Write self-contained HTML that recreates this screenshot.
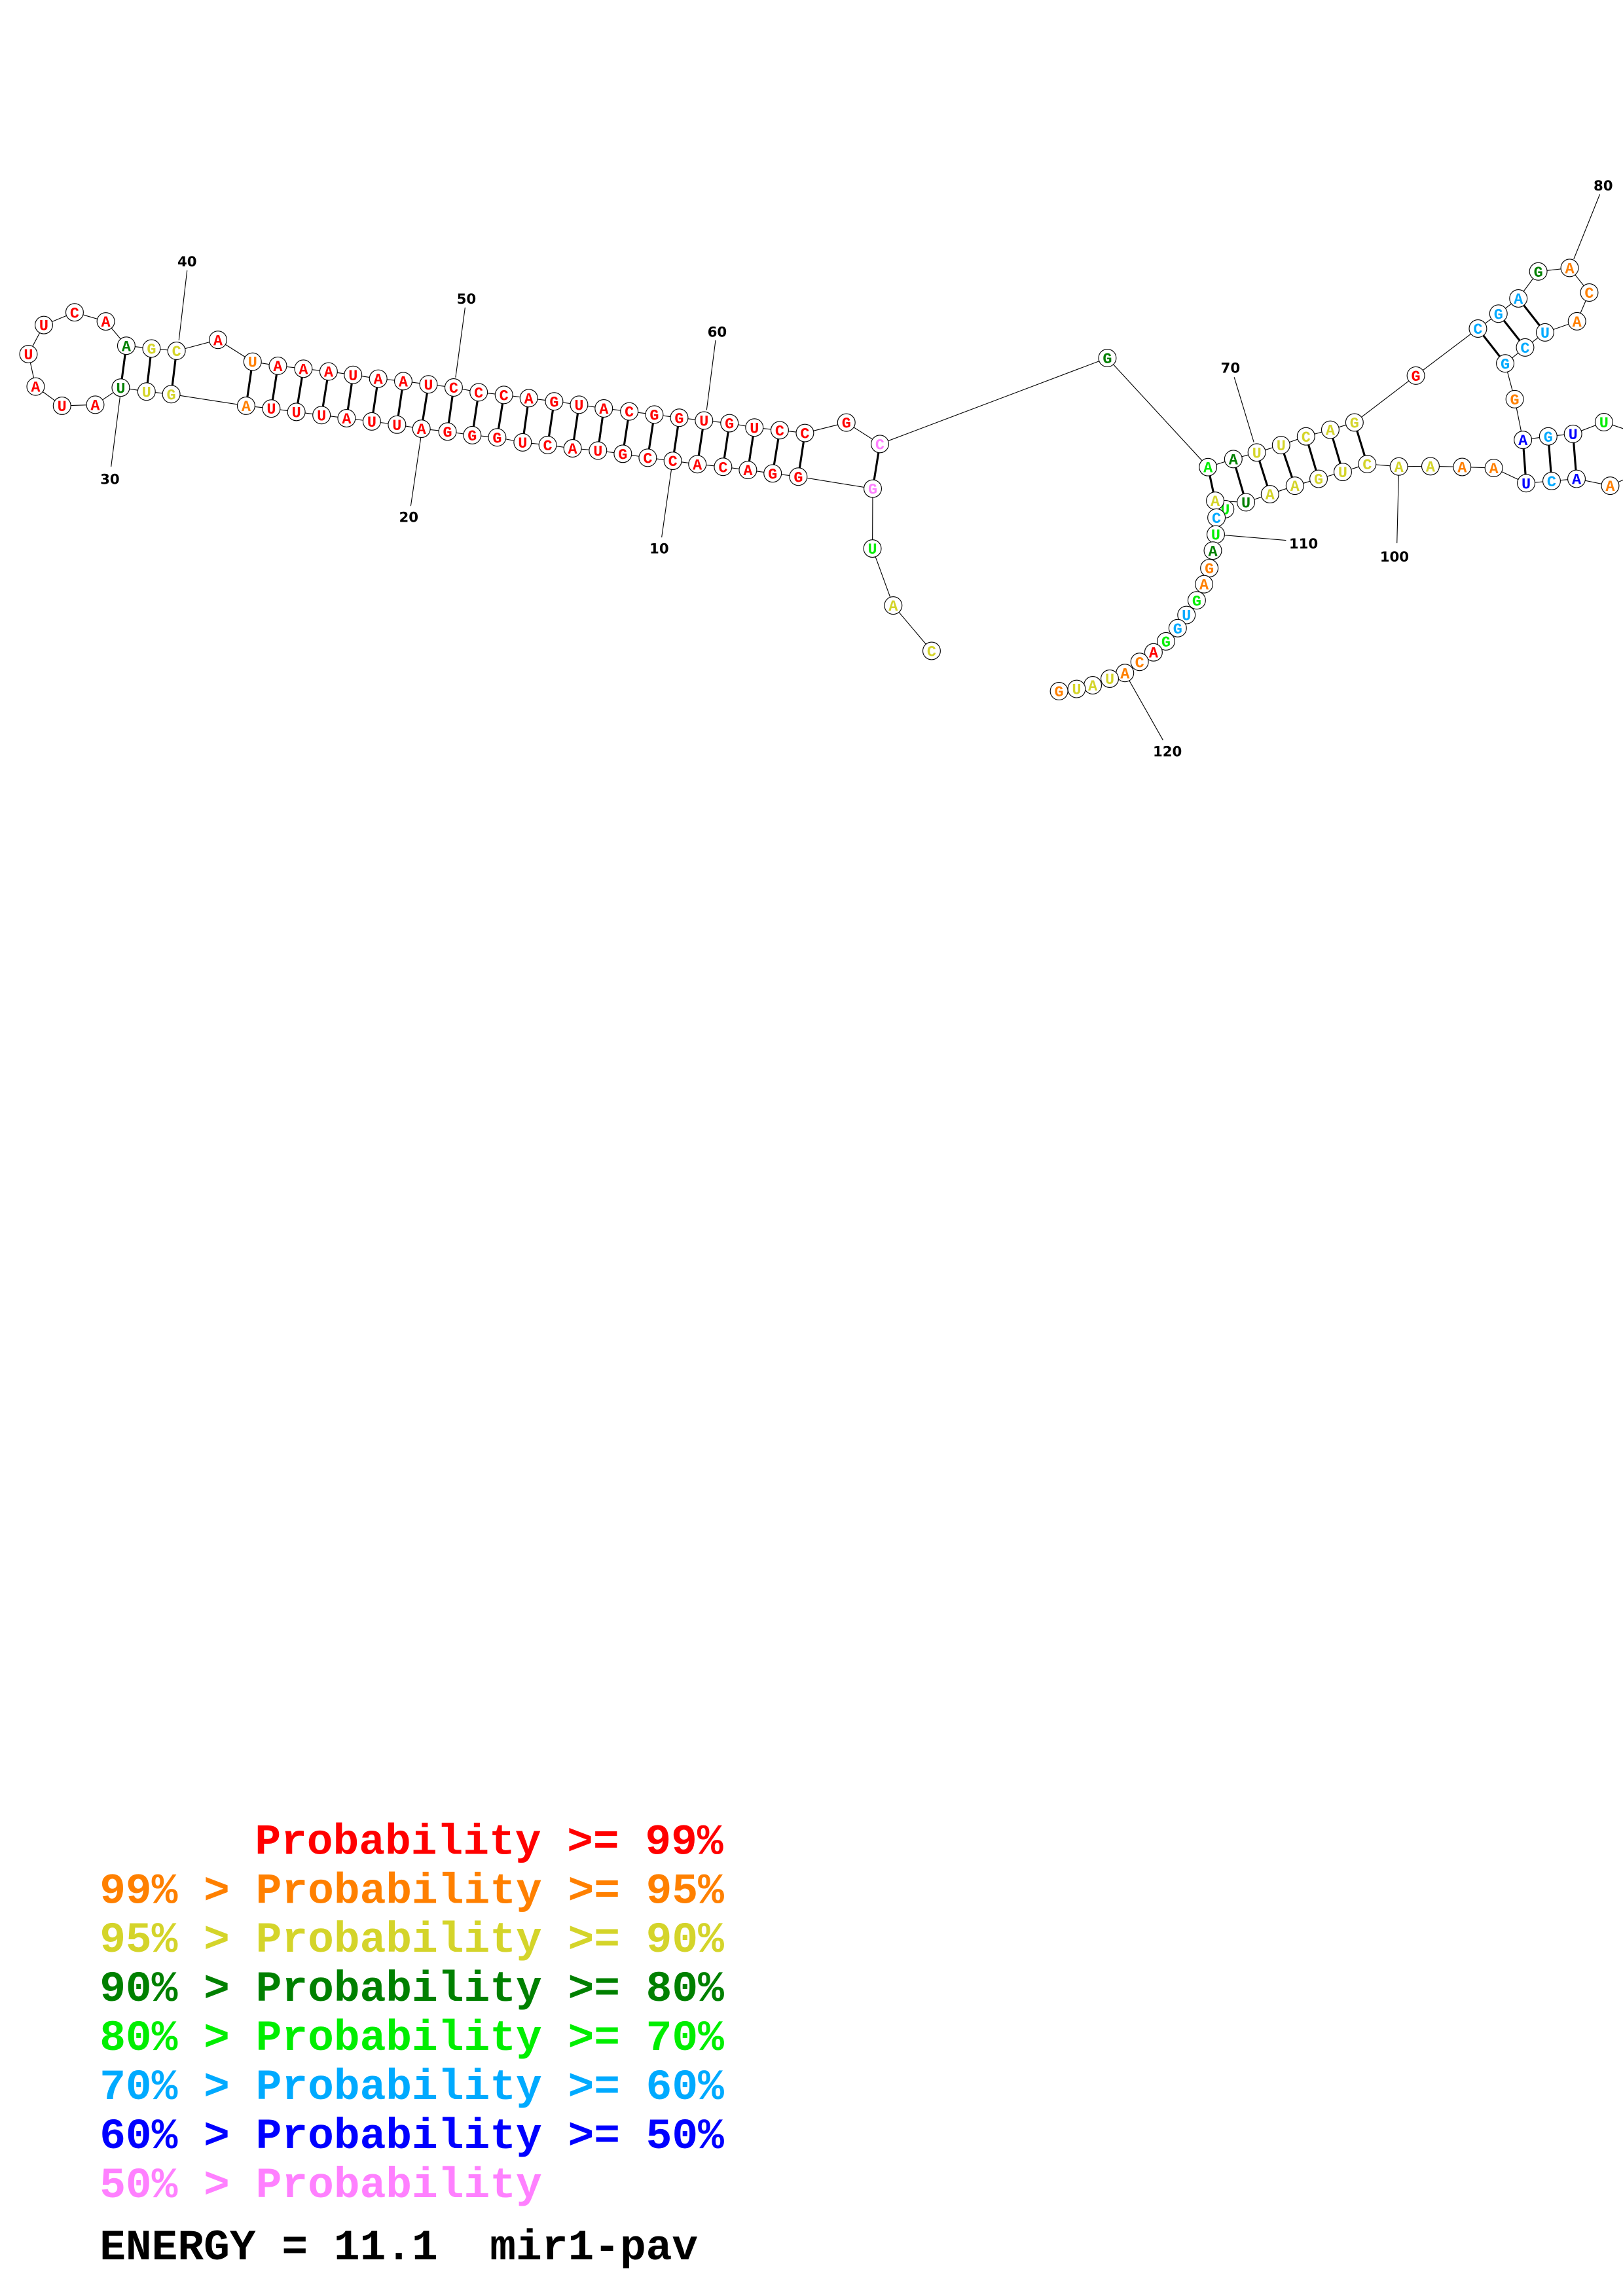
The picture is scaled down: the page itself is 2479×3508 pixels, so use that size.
<!DOCTYPE html>
<html><head><meta charset="utf-8"><style>
html,body{margin:0;padding:0;background:#fff;}
svg{display:block;}
.n circle{fill:#fff;stroke:#000;stroke-width:0.5;}
.n text{font-family:"Liberation Mono",monospace;font-weight:bold;font-size:10.5px;text-anchor:middle;}
.r{fill:#ff0000}.o{fill:#ff8000}.y{fill:#d4d42a}.g{fill:#008000}.l{fill:#00ee00}.b{fill:#00aaff}.d{fill:#0000ff}.p{fill:#ff80ff}
.lab{font-family:"DejaVu Sans","Liberation Sans",sans-serif;font-weight:bold;font-size:9.5px;text-anchor:middle;fill:#000}
.leg{font-family:"Liberation Mono",monospace;font-weight:bold;font-size:29.6px;white-space:pre}
</style></head><body>
<svg width="2479" height="3508" viewBox="0 0 1108 1568" xmlns="http://www.w3.org/2000/svg">
<rect width="1108" height="1568" fill="#fff"/>
<g fill="none" stroke="#000" stroke-width="0.5">
<polyline points="636,444.5 609.8,413.5 595.6,374.6 595.8,333.7 545,325.5 527.5,323.3 510.6,321 493.6,318.8 476.1,317 459.3,314.7 442.2,312.6 425.2,309.9 408.2,307.7 390.9,306.2 373.9,303.9 356.8,302.1 339.4,298.7 322.4,297.2 305.5,294.7 287.7,292.8 271,290 253.8,287.8 236.6,285.6 219.5,283.5 202.3,281.3 185.2,279 168,277.1 116.9,269.2 100,267.4 82.4,264.7 65,276.4 42.3,277.1 24.3,264 19.4,241.8 29.9,222 50.9,213.3 72.2,219.5 86.2,236.1 103.4,238 120.5,239.6 148.8,232.1 172.4,247 189.7,249.8 207.1,251.8 224.3,253.7 241,256 258.2,258.6 275.3,260.3 292.5,262.5 309.7,264.6 326.8,267.9 344,269.7 361,271.9 378.3,274.1 395.3,276.4 412.2,278.9 429.6,281 446.7,283.1 463.7,285.3 480.6,287.2 498,289 515,292 532.3,293.8 549.5,295.7 577.8,288.6 600.7,303.2 756,244.5 824.7,319 842,313.5 858,309 874.6,304 891.6,298 908.2,293.5 924.7,288.5 966.6,256.5 1009,224.4 1023,214.2 1036.6,203.8 1050.2,185.4 1071.6,183 1085,199.8 1076.6,219.4 1054.8,227 1041.2,237.3 1027.6,248.2 1034.1,272.6 1039.7,300.4 1057,298 1073.9,296.3 1095,288.3 1112,294"/>
<polyline points="1112,326 1099.3,331.7 1076.3,327 1059.3,328.5 1041.9,330 1019.8,319.6 998.2,318.9 976.6,318.4 955,318.6 933.4,316.9 916.7,322.3 900.2,327 884,331.7 867,337.5 850.6,343 829.6,342 836.4,347.7 830.5,353.5 830,365 828,376 825.6,388 822,399 817,410 810,420 804,429 796,438 787.5,445.5 778,452 768,459.6 757.6,463.5 746,468 735,470.5 723,472"/>
<line x1="127.7" y1="184.7" x2="122.1" y2="232.4"/>
<line x1="81.9" y1="271.2" x2="75.8" y2="318.8"/>
<line x1="287.3" y1="298.7" x2="280.4" y2="345.6"/>
<line x1="459" y1="316" x2="451.7" y2="367"/>
<line x1="317.5" y1="210" x2="311" y2="257.8"/>
<line x1="488.5" y1="232.4" x2="482.4" y2="280"/>
<line x1="842.6" y1="257.6" x2="856" y2="302"/>
<line x1="1092.2" y1="132.7" x2="1074.4" y2="177"/>
<line x1="955" y1="318.6" x2="953.7" y2="371"/>
<line x1="830" y1="365" x2="878" y2="369"/>
<line x1="768" y1="459.6" x2="794" y2="505.5"/>
</g>
<g stroke="#000" stroke-width="1.4">
<line x1="86.2" y1="236.1" x2="82.4" y2="264.7"/><line x1="103.4" y1="238" x2="100" y2="267.4"/><line x1="120.5" y1="239.6" x2="116.9" y2="269.2"/>
<line x1="172.4" y1="247" x2="168" y2="277.1"/><line x1="189.7" y1="249.8" x2="185.2" y2="279"/><line x1="207.1" y1="251.8" x2="202.3" y2="281.3"/><line x1="224.3" y1="253.7" x2="219.5" y2="283.5"/><line x1="241" y1="256" x2="236.6" y2="285.6"/><line x1="258.2" y1="258.6" x2="253.8" y2="287.8"/><line x1="275.3" y1="260.3" x2="271" y2="290"/><line x1="292.5" y1="262.5" x2="287.7" y2="292.8"/><line x1="309.7" y1="264.6" x2="305.5" y2="294.7"/><line x1="326.8" y1="267.9" x2="322.4" y2="297.2"/><line x1="344" y1="269.7" x2="339.4" y2="298.7"/><line x1="361" y1="271.9" x2="356.8" y2="302.1"/><line x1="378.3" y1="274.1" x2="373.9" y2="303.9"/><line x1="395.3" y1="276.4" x2="390.9" y2="306.2"/><line x1="412.2" y1="278.9" x2="408.2" y2="307.7"/><line x1="429.6" y1="281" x2="425.2" y2="309.9"/><line x1="446.7" y1="283.1" x2="442.2" y2="312.6"/><line x1="463.7" y1="285.3" x2="459.3" y2="314.7"/><line x1="480.6" y1="287.2" x2="476.1" y2="317"/><line x1="498" y1="289" x2="493.6" y2="318.8"/><line x1="515" y1="292" x2="510.6" y2="321"/><line x1="532.3" y1="293.8" x2="527.5" y2="323.3"/><line x1="549.5" y1="295.7" x2="545" y2="325.5"/>
<line x1="600.7" y1="303.2" x2="595.8" y2="333.7"/>
<line x1="824.7" y1="319" x2="829.6" y2="342"/><line x1="842" y1="313.5" x2="850.6" y2="343"/><line x1="858" y1="309" x2="867" y2="337.5"/><line x1="874.6" y1="304" x2="884" y2="331.7"/><line x1="891.6" y1="298" x2="900.2" y2="327"/><line x1="908.2" y1="293.5" x2="916.7" y2="322.3"/><line x1="924.7" y1="288.5" x2="933.4" y2="316.9"/>
<line x1="1009" y1="224.4" x2="1027.6" y2="248.2"/><line x1="1023" y1="214.2" x2="1041.2" y2="237.3"/><line x1="1036.6" y1="203.8" x2="1054.8" y2="227"/>
<line x1="1039.7" y1="300.4" x2="1041.9" y2="330"/><line x1="1057" y1="298" x2="1059.3" y2="328.5"/><line x1="1073.9" y1="296.3" x2="1076.3" y2="327"/>
</g>
<g class="n">
<circle cx="29.9" cy="222" r="6"/><text x="29.9" y="225.6" class="r">U</text>
<circle cx="50.9" cy="213.3" r="6"/><text x="50.9" y="216.9" class="r">C</text>
<circle cx="72.2" cy="219.5" r="6"/><text x="72.2" y="223.1" class="r">A</text>
<circle cx="19.4" cy="241.8" r="6"/><text x="19.4" y="245.4" class="r">U</text>
<circle cx="24.3" cy="264" r="6"/><text x="24.3" y="267.6" class="r">A</text>
<circle cx="42.3" cy="277.1" r="6"/><text x="42.3" y="280.7" class="r">U</text>
<circle cx="65" cy="276.4" r="6"/><text x="65" y="280" class="r">A</text>
<circle cx="86.2" cy="236.1" r="6"/><text x="86.2" y="239.7" class="g">A</text>
<circle cx="103.4" cy="238" r="6"/><text x="103.4" y="241.6" class="y">G</text>
<circle cx="120.5" cy="239.6" r="6"/><text x="120.5" y="243.2" class="y">C</text>
<circle cx="82.4" cy="264.7" r="6"/><text x="82.4" y="268.3" class="g">U</text>
<circle cx="100" cy="267.4" r="6"/><text x="100" y="271" class="y">U</text>
<circle cx="116.9" cy="269.2" r="6"/><text x="116.9" y="272.8" class="y">G</text>
<circle cx="148.8" cy="232.1" r="6"/><text x="148.8" y="235.7" class="r">A</text>
<circle cx="172.4" cy="247" r="6"/><text x="172.4" y="250.6" class="o">U</text>
<circle cx="189.7" cy="249.8" r="6"/><text x="189.7" y="253.4" class="r">A</text>
<circle cx="207.1" cy="251.8" r="6"/><text x="207.1" y="255.4" class="r">A</text>
<circle cx="224.3" cy="253.7" r="6"/><text x="224.3" y="257.3" class="r">A</text>
<circle cx="241" cy="256" r="6"/><text x="241" y="259.6" class="r">U</text>
<circle cx="258.2" cy="258.6" r="6"/><text x="258.2" y="262.2" class="r">A</text>
<circle cx="275.3" cy="260.3" r="6"/><text x="275.3" y="263.9" class="r">A</text>
<circle cx="292.5" cy="262.5" r="6"/><text x="292.5" y="266.1" class="r">U</text>
<circle cx="309.7" cy="264.6" r="6"/><text x="309.7" y="268.2" class="r">C</text>
<circle cx="326.8" cy="267.9" r="6"/><text x="326.8" y="271.5" class="r">C</text>
<circle cx="344" cy="269.7" r="6"/><text x="344" y="273.3" class="r">C</text>
<circle cx="361" cy="271.9" r="6"/><text x="361" y="275.5" class="r">A</text>
<circle cx="378.3" cy="274.1" r="6"/><text x="378.3" y="277.7" class="r">G</text>
<circle cx="395.3" cy="276.4" r="6"/><text x="395.3" y="280" class="r">U</text>
<circle cx="412.2" cy="278.9" r="6"/><text x="412.2" y="282.5" class="r">A</text>
<circle cx="429.6" cy="281" r="6"/><text x="429.6" y="284.6" class="r">C</text>
<circle cx="446.7" cy="283.1" r="6"/><text x="446.7" y="286.7" class="r">G</text>
<circle cx="463.7" cy="285.3" r="6"/><text x="463.7" y="288.9" class="r">G</text>
<circle cx="480.6" cy="287.2" r="6"/><text x="480.6" y="290.8" class="r">U</text>
<circle cx="498" cy="289" r="6"/><text x="498" y="292.6" class="r">G</text>
<circle cx="515" cy="292" r="6"/><text x="515" y="295.6" class="r">U</text>
<circle cx="532.3" cy="293.8" r="6"/><text x="532.3" y="297.4" class="r">C</text>
<circle cx="549.5" cy="295.7" r="6"/><text x="549.5" y="299.3" class="r">C</text>
<circle cx="168" cy="277.1" r="6"/><text x="168" y="280.7" class="o">A</text>
<circle cx="185.2" cy="279" r="6"/><text x="185.2" y="282.6" class="r">U</text>
<circle cx="202.3" cy="281.3" r="6"/><text x="202.3" y="284.9" class="r">U</text>
<circle cx="219.5" cy="283.5" r="6"/><text x="219.5" y="287.1" class="r">U</text>
<circle cx="236.6" cy="285.6" r="6"/><text x="236.6" y="289.2" class="r">A</text>
<circle cx="253.8" cy="287.8" r="6"/><text x="253.8" y="291.4" class="r">U</text>
<circle cx="271" cy="290" r="6"/><text x="271" y="293.6" class="r">U</text>
<circle cx="287.7" cy="292.8" r="6"/><text x="287.7" y="296.4" class="r">A</text>
<circle cx="305.5" cy="294.7" r="6"/><text x="305.5" y="298.3" class="r">G</text>
<circle cx="322.4" cy="297.2" r="6"/><text x="322.4" y="300.8" class="r">G</text>
<circle cx="339.4" cy="298.7" r="6"/><text x="339.4" y="302.3" class="r">G</text>
<circle cx="356.8" cy="302.1" r="6"/><text x="356.8" y="305.7" class="r">U</text>
<circle cx="373.9" cy="303.9" r="6"/><text x="373.9" y="307.5" class="r">C</text>
<circle cx="390.9" cy="306.2" r="6"/><text x="390.9" y="309.8" class="r">A</text>
<circle cx="408.2" cy="307.7" r="6"/><text x="408.2" y="311.3" class="r">U</text>
<circle cx="425.2" cy="309.9" r="6"/><text x="425.2" y="313.5" class="r">G</text>
<circle cx="442.2" cy="312.6" r="6"/><text x="442.2" y="316.2" class="r">C</text>
<circle cx="459.3" cy="314.7" r="6"/><text x="459.3" y="318.3" class="r">C</text>
<circle cx="476.1" cy="317" r="6"/><text x="476.1" y="320.6" class="r">A</text>
<circle cx="493.6" cy="318.8" r="6"/><text x="493.6" y="322.4" class="r">C</text>
<circle cx="510.6" cy="321" r="6"/><text x="510.6" y="324.6" class="r">A</text>
<circle cx="527.5" cy="323.3" r="6"/><text x="527.5" y="326.9" class="r">G</text>
<circle cx="545" cy="325.5" r="6"/><text x="545" y="329.1" class="r">G</text>
<circle cx="577.8" cy="288.6" r="6"/><text x="577.8" y="292.2" class="r">G</text>
<circle cx="600.7" cy="303.2" r="6"/><text x="600.7" y="306.8" class="p">C</text>
<circle cx="595.8" cy="333.7" r="6"/><text x="595.8" y="337.3" class="p">G</text>
<circle cx="595.6" cy="374.6" r="6"/><text x="595.6" y="378.2" class="l">U</text>
<circle cx="609.8" cy="413.5" r="6"/><text x="609.8" y="417.1" class="y">A</text>
<circle cx="636" cy="444.5" r="6"/><text x="636" y="448.1" class="y">C</text>
<circle cx="756" cy="244.5" r="6"/><text x="756" y="248.1" class="g">G</text>
<circle cx="824.7" cy="319" r="6"/><text x="824.7" y="322.6" class="l">A</text>
<circle cx="842" cy="313.5" r="6"/><text x="842" y="317.1" class="g">A</text>
<circle cx="858" cy="309" r="6"/><text x="858" y="312.6" class="y">U</text>
<circle cx="874.6" cy="304" r="6"/><text x="874.6" y="307.6" class="y">U</text>
<circle cx="891.6" cy="298" r="6"/><text x="891.6" y="301.6" class="y">C</text>
<circle cx="908.2" cy="293.5" r="6"/><text x="908.2" y="297.1" class="y">A</text>
<circle cx="924.7" cy="288.5" r="6"/><text x="924.7" y="292.1" class="y">G</text>
<circle cx="933.4" cy="316.9" r="6"/><text x="933.4" y="320.5" class="y">C</text>
<circle cx="916.7" cy="322.3" r="6"/><text x="916.7" y="325.9" class="y">U</text>
<circle cx="900.2" cy="327" r="6"/><text x="900.2" y="330.6" class="y">G</text>
<circle cx="884" cy="331.7" r="6"/><text x="884" y="335.3" class="y">A</text>
<circle cx="867" cy="337.5" r="6"/><text x="867" y="341.1" class="y">A</text>
<circle cx="850.6" cy="343" r="6"/><text x="850.6" y="346.6" class="g">U</text>
<circle cx="836.4" cy="347.7" r="6"/><text x="836.4" y="351.3" class="l">U</text>
<circle cx="829.6" cy="342" r="6"/><text x="829.6" y="345.6" class="y">A</text>
<circle cx="830.5" cy="353.5" r="6"/><text x="830.5" y="357.1" class="b">C</text>
<circle cx="830" cy="365" r="6"/><text x="830" y="368.6" class="l">U</text>
<circle cx="828" cy="376" r="6"/><text x="828" y="379.6" class="g">A</text>
<circle cx="825.6" cy="388" r="6"/><text x="825.6" y="391.6" class="o">G</text>
<circle cx="822" cy="399" r="6"/><text x="822" y="402.6" class="o">A</text>
<circle cx="817" cy="410" r="6"/><text x="817" y="413.6" class="l">G</text>
<circle cx="810" cy="420" r="6"/><text x="810" y="423.6" class="b">U</text>
<circle cx="804" cy="429" r="6"/><text x="804" y="432.6" class="b">G</text>
<circle cx="796" cy="438" r="6"/><text x="796" y="441.6" class="l">G</text>
<circle cx="787.5" cy="445.5" r="6"/><text x="787.5" y="449.1" class="r">A</text>
<circle cx="778" cy="452" r="6"/><text x="778" y="455.6" class="o">C</text>
<circle cx="768" cy="459.6" r="6"/><text x="768" y="463.2" class="o">A</text>
<circle cx="757.6" cy="463.5" r="6"/><text x="757.6" y="467.1" class="y">U</text>
<circle cx="746" cy="468" r="6"/><text x="746" y="471.6" class="y">A</text>
<circle cx="735" cy="470.5" r="6"/><text x="735" y="474.1" class="y">U</text>
<circle cx="723" cy="472" r="6"/><text x="723" y="475.6" class="o">G</text>
<circle cx="966.6" cy="256.5" r="6"/><text x="966.6" y="260.1" class="r">G</text>
<circle cx="1009" cy="224.4" r="6"/><text x="1009" y="228" class="b">C</text>
<circle cx="1023" cy="214.2" r="6"/><text x="1023" y="217.8" class="b">G</text>
<circle cx="1036.6" cy="203.8" r="6"/><text x="1036.6" y="207.4" class="b">A</text>
<circle cx="1050.2" cy="185.4" r="6"/><text x="1050.2" y="189" class="g">G</text>
<circle cx="1071.6" cy="183" r="6"/><text x="1071.6" y="186.6" class="o">A</text>
<circle cx="1085" cy="199.8" r="6"/><text x="1085" y="203.4" class="o">C</text>
<circle cx="1076.6" cy="219.4" r="6"/><text x="1076.6" y="223" class="o">A</text>
<circle cx="1054.8" cy="227" r="6"/><text x="1054.8" y="230.6" class="b">U</text>
<circle cx="1041.2" cy="237.3" r="6"/><text x="1041.2" y="240.9" class="b">C</text>
<circle cx="1027.6" cy="248.2" r="6"/><text x="1027.6" y="251.8" class="b">G</text>
<circle cx="1034.1" cy="272.6" r="6"/><text x="1034.1" y="276.2" class="o">G</text>
<circle cx="1039.7" cy="300.4" r="6"/><text x="1039.7" y="304" class="d">A</text>
<circle cx="1057" cy="298" r="6"/><text x="1057" y="301.6" class="b">G</text>
<circle cx="1073.9" cy="296.3" r="6"/><text x="1073.9" y="299.9" class="d">U</text>
<circle cx="1095" cy="288.3" r="6"/><text x="1095" y="291.9" class="l">U</text>
<circle cx="1099.3" cy="331.7" r="6"/><text x="1099.3" y="335.3" class="o">A</text>
<circle cx="1076.3" cy="327" r="6"/><text x="1076.3" y="330.6" class="d">A</text>
<circle cx="1059.3" cy="328.5" r="6"/><text x="1059.3" y="332.1" class="b">C</text>
<circle cx="1041.9" cy="330" r="6"/><text x="1041.9" y="333.6" class="d">U</text>
<circle cx="1019.8" cy="319.6" r="6"/><text x="1019.8" y="323.2" class="o">A</text>
<circle cx="998.2" cy="318.9" r="6"/><text x="998.2" y="322.5" class="o">A</text>
<circle cx="976.6" cy="318.4" r="6"/><text x="976.6" y="322" class="y">A</text>
<circle cx="955" cy="318.6" r="6"/><text x="955" y="322.2" class="y">A</text>
</g>
<g class="lab">
<text x="127.7" y="182">40</text>
<text x="75" y="330.5">30</text>
<text x="279" y="356.5">20</text>
<text x="450" y="378">10</text>
<text x="318.4" y="207.3">50</text>
<text x="489.6" y="230">60</text>
<text x="840" y="254.5">70</text>
<text x="1094.5" y="130">80</text>
<text x="952" y="383.5">100</text>
<text x="880" y="374.5" style="text-anchor:start">110</text>
<text x="797" y="516.5">120</text>
</g>
<g class="leg">
<text x="174" y="1266" fill="#ff0000">Probability &gt;= 99%</text>
<text x="68" y="1299.5" fill="#ff8000">99% &gt; Probability &gt;= 95%</text>
<text x="68" y="1333" fill="#d4d42a">95% &gt; Probability &gt;= 90%</text>
<text x="68" y="1366.5" fill="#008000">90% &gt; Probability &gt;= 80%</text>
<text x="68" y="1400" fill="#00ee00">80% &gt; Probability &gt;= 70%</text>
<text x="68" y="1433.5" fill="#00aaff">70% &gt; Probability &gt;= 60%</text>
<text x="68" y="1467" fill="#0000ff">60% &gt; Probability &gt;= 50%</text>
<text x="68" y="1500.5" fill="#ff80ff">50% &gt; Probability</text>
<text x="68" y="1543" fill="#000">ENERGY = 11.1&#160; mir1-pav</text>
</g>
</svg>
</body></html>
